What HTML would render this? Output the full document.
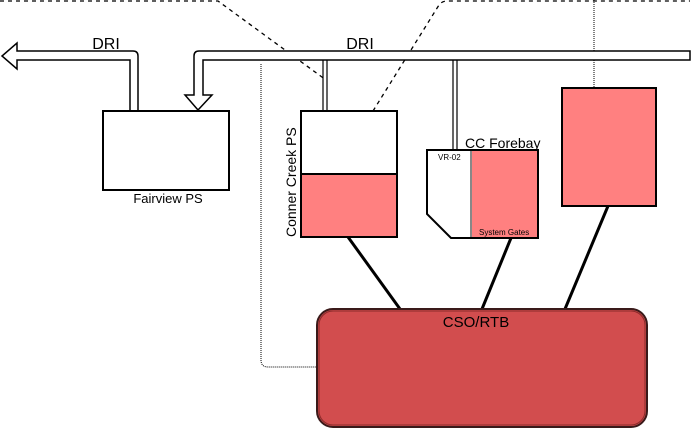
<!DOCTYPE html>
<html><head><style>body{margin:0;background:#fff}svg{display:block}</style></head><body>
<svg width="691" height="429" viewBox="0 0 691 429" xmlns="http://www.w3.org/2000/svg" font-family="Liberation Sans, sans-serif">
<!-- dashed lines -->
<path d="M0 1 H218 L326 80" fill="none" stroke="#000" stroke-width="1.3" stroke-dasharray="4,4"/>
<path d="M373 111 L439 5 Q442 1 447 1 H690" fill="none" stroke="#000" stroke-width="1.3" stroke-dasharray="4,4"/>
<!-- dotted -->
<path d="M594 0 V88" stroke="#000" stroke-width="1" stroke-dasharray="1,1"/>
<path d="M261 64 V360 Q261 367 268 367 H317" fill="none" stroke="#000" stroke-width="1" stroke-dasharray="1,1"/>
<!-- left DRI arrow -->
<path d="M138 110 V56 Q138 51 133 51 H17 V43 L2 56 L17 69 V60 H130 V110" fill="#fff" stroke="#000" stroke-width="1.5"/>
<!-- right DRI pipe -->
<path d="M690 51 H199 Q194 51 194 56 V95 H185 L198 110 L212 95 H203 V60 H690 Z" fill="#fff" stroke="#000" stroke-width="1.5"/>
<!-- stems -->
<path d="M323 60 V111 M327 60 V111 M453 60 V150 M457 60 V150" stroke="#000" stroke-width="1.2"/>
<!-- Fairview -->
<rect x="103" y="111" width="126" height="79" fill="#fff" stroke="#000" stroke-width="2"/>
<text x="168" y="203" font-size="13" text-anchor="middle">Fairview PS</text>
<!-- Conner Creek -->
<rect x="301" y="174" width="96" height="63" fill="#ff8080"/>
<rect x="301" y="111" width="96" height="126" fill="none" stroke="#000" stroke-width="2"/>
<line x1="301" y1="174" x2="397" y2="174" stroke="#000" stroke-width="2"/>
<text transform="translate(296 237) rotate(-90)" font-size="14">Conner Creek PS</text>
<!-- CC Forebay -->
<rect x="471" y="150" width="67" height="88" fill="#ff8080"/>
<line x1="471" y1="150" x2="471" y2="238" stroke="#888" stroke-width="2"/>
<path d="M427 150 H538 V238 H451 L427 214 Z" fill="none" stroke="#000" stroke-width="2"/>
<text x="438" y="160" font-size="8">VR-02</text>
<text x="479" y="235" font-size="8">System Gates</text>
<text x="465" y="148" font-size="14">CC Forebay</text>
<!-- right box -->
<rect x="562" y="88" width="94" height="118" fill="#ff8080" stroke="#000" stroke-width="2"/>
<!-- connectors -->
<path d="M348 237 L400 309 M511 238 L482 309 M608 206 L565 309" stroke="#000" stroke-width="3"/>
<!-- CSO/RTB -->
<rect x="317" y="309" width="330" height="118" rx="16" fill="#d24d4e" stroke="#3a1a1a" stroke-width="2"/>
<rect x="319" y="311" width="326" height="114" rx="14" fill="none" stroke="#8a2a2a" stroke-width="1"/>
<text x="476" y="327" font-size="15" text-anchor="middle">CSO/RTB</text>
<!-- DRI labels -->
<text x="106" y="49" font-size="16" text-anchor="middle">DRI</text>
<text x="360" y="49" font-size="16" text-anchor="middle">DRI</text>
</svg>
</body></html>
